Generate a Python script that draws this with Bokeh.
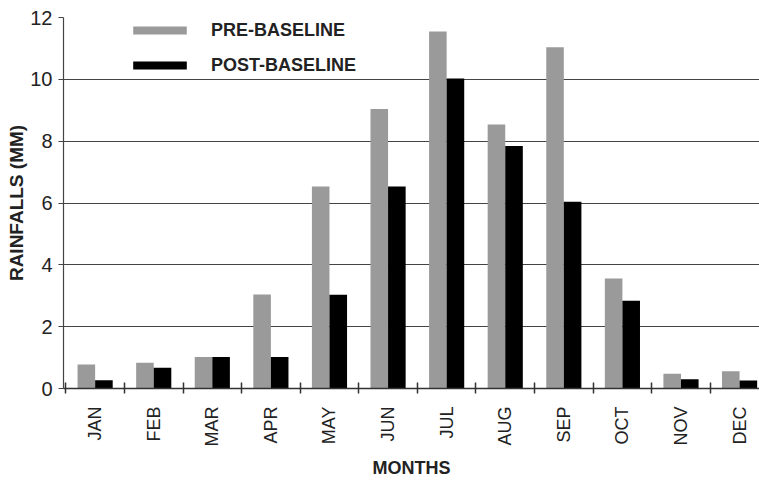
from bokeh.plotting import figure
from bokeh.models import FixedTicker, Range1d, ColumnDataSource
from bokeh.embed import file_html
from bokeh.resources import INLINE
import math

months = ["JAN", "FEB", "MAR", "APR", "MAY", "JUN", "JUL", "AUG", "SEP", "OCT", "NOV", "DEC"]
pre_baseline = [0.78, 0.83, 1.02, 3.04, 6.53, 9.04, 11.55, 8.54, 11.04, 3.56, 0.48, 0.56]
post_baseline = [0.27, 0.67, 1.02, 1.02, 3.03, 6.53, 10.03, 7.84, 6.04, 2.84, 0.30, 0.26]
y_ticks = [0, 2, 4, 6, 8, 10, 12]

idx = list(range(len(months)))
src = ColumnDataSource(dict(
    x_pre=[i + 0.35 for i in idx],
    x_post=[i + 0.65 for i in idx],
    pre=pre_baseline,
    post=post_baseline,
))

FONT = "Liberation Sans"

p = figure(width=759, height=481, output_backend="svg", toolbar_location=None,
           x_range=Range1d(-0.04, 11.84), y_range=Range1d(0, 12),
           min_border_left=63, min_border_right=0, min_border_top=17, min_border_bottom=91)
p.outline_line_color = None
p.background_fill_color = "white"
p.border_fill_color = "white"

p.vbar(x="x_pre", top="pre", width=0.3, source=src, fill_color="#9a9a9a",
       line_color=None, legend_label="PRE-BASELINE")
p.vbar(x="x_post", top="post", width=0.3, source=src, fill_color="#000000",
       line_color=None, legend_label="POST-BASELINE")

# x axis
p.xaxis.ticker = FixedTicker(ticks=[i + 0.5 for i in idx], minor_ticks=list(range(13)))
p.xaxis.major_label_overrides = {i + 0.5: m for i, m in zip(idx, months)}
p.xaxis.major_label_orientation = math.pi / 2
p.xaxis.major_tick_line_color = None
p.xaxis.minor_tick_in = 6
p.xaxis.minor_tick_out = 5
p.xaxis.minor_tick_line_color = "#333333"
p.xaxis.minor_tick_line_width = 1.5
p.xaxis.axis_line_color = "#333333"
p.xaxis.axis_line_width = 1.5
p.xaxis.major_label_text_font = FONT
p.xaxis.major_label_text_font_size = "18px"
p.xaxis.major_label_text_color = "#222222"
p.xaxis.major_label_standoff = 12
p.xaxis.axis_label = "MONTHS"
p.xaxis.axis_label_text_font = FONT
p.xaxis.axis_label_text_font_size = "18px"
p.xaxis.axis_label_text_font_style = "bold"
p.xaxis.axis_label_text_color = "#222222"
p.xaxis.axis_label_standoff = 9

# y axis
p.yaxis.ticker = FixedTicker(ticks=y_ticks)
p.yaxis.minor_tick_line_color = None
p.yaxis.major_tick_in = 0
p.yaxis.major_tick_out = 5
p.yaxis.major_tick_line_color = "#444444"
p.yaxis.axis_line_color = "#444444"
p.yaxis.axis_line_width = 1.2
p.yaxis.major_label_text_font = FONT
p.yaxis.major_label_text_font_size = "20px"
p.yaxis.major_label_text_color = "#222222"
p.yaxis.major_label_standoff = 6
p.yaxis.axis_label = "RAINFALLS (MM)"
p.yaxis.axis_label_text_font = FONT
p.yaxis.axis_label_text_font_size = "19px"
p.yaxis.axis_label_text_font_style = "bold"
p.yaxis.axis_label_text_color = "#222222"
p.yaxis.axis_label_standoff = 0

p.xgrid.grid_line_color = None
p.ygrid.grid_line_color = "#444444"
p.ygrid.grid_line_width = 1.2

lg = p.legend[0]
lg.location = (63, 312)
lg.border_line_color = None
lg.background_fill_alpha = 0
lg.padding = 0
lg.margin = 0
lg.spacing = 13
lg.glyph_width = 67
lg.glyph_height = 10
lg.label_height = 22
lg.label_standoff = 18
lg.label_text_font = FONT
lg.label_text_font_size = "18px"
lg.label_text_font_style = "bold"
lg.label_text_color = "#222222"

open("out.html", "w").write(file_html(p, INLINE))
